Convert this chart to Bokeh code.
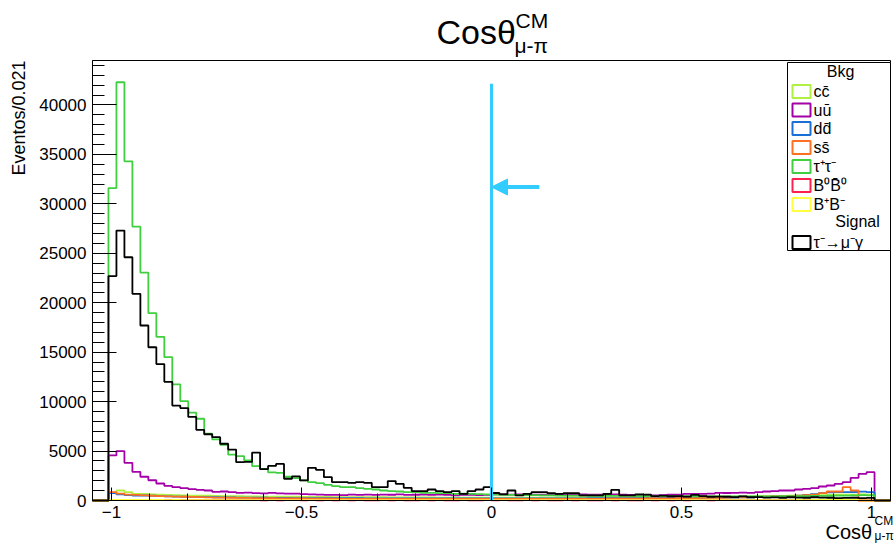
import numpy as np
from bokeh.plotting import figure
from bokeh.models import Range1d, FixedTicker, Label, BoxAnnotation, Arrow, NormalHead
from bokeh.embed import file_html
from bokeh.resources import INLINE

# ---------------- data ----------------
X_MIN, X_MAX = -1.05, 1.05
N_BINS = 100
BIN_W = 0.021
FIRST_BIN = 2
Y_MAX = 44500

signal = [22700, 27300, 24600, 20900, 17700, 15500, 13800, 12000, 9600, 9350,
          8450, 7150, 6700, 6400, 5740, 5150, 3880, 3900, 4850, 3170,
          3500, 3700, 2200, 2450, 2030, 3300, 3100, 2360, 1860, 1860,
          1790, 1860, 1790, 1350, 1350, 1960, 1690, 1280, 950, 950,
          1110, 950, 840, 950, 680, 950, 1110, 1350,
          760, 610, 1010, 520, 680, 840, 840, 740, 680, 740,
          740, 520, 520, 520, 680, 1080, 520, 520,
          620, 600, 450, 500, 430, 450, 400, 560, 450, 380,
          400, 380, 350, 420, 330, 350, 300, 320, 280, 330,
          300, 280, 330, 300, 280, 250, 270, 280, 240, 260]

tautau = [31600, 42300, 34300, 27700, 23050, 18950, 16550, 14500, 11750, 10050,
          8880, 8270, 6750, 6180, 5640, 4630, 4490, 4050, 3475, 3200,
          2850, 2800, 2400, 2260, 2030, 1860, 1760, 1590, 1450, 1350,
          1350, 1250, 1180, 1110, 1010, 950, 910, 850, 850, 780,
          780, 740, 740, 680, 700, 680, 650, 620,
          600, 580, 560, 560, 540, 540, 520, 520, 500, 500,
          490, 490, 480, 480, 470, 470, 460, 460, 450, 450,
          450, 440, 440, 440, 430, 430, 430, 420, 420, 420,
          420, 410, 410, 410, 420, 420, 430, 440, 440, 450,
          460, 470, 480, 490, 500, 520, 540, 520]

uu = [4560, 5000, 3810, 2900, 2400, 2050, 1720, 1470, 1350, 1250,
      1150, 1080, 1010, 880, 910, 850, 780, 800, 750, 720,
      780, 720, 700, 700, 650, 620, 600, 560, 560, 540,
      600, 560, 600, 560, 600, 580, 620, 560, 580, 600,
      560, 600, 580, 520, 560, 580, 540, 560,
      620, 640, 600, 620, 580, 600, 600, 620, 580, 600,
      560, 620, 600, 580, 600, 620, 580, 560,
      520, 540, 520, 540, 580, 580, 680, 660, 680, 700,
      780, 760, 780, 800, 780, 844, 911, 945, 1013, 1013,
      1114, 1181, 1249, 1418, 1519, 1687, 1856, 2296, 2700, 2869]

cc = [800, 1010, 840, 680, 680, 620, 600, 560, 540, 520,
      500, 480, 480, 460, 450, 440, 430, 420, 420, 400,
      400, 390, 380, 380, 370, 370, 360, 360, 350, 350,
      340, 340, 330, 330, 330, 320, 320, 320, 310, 310,
      310, 300, 300, 300, 300, 300, 290, 290,
      290, 290, 290, 290, 300, 300, 300, 300, 300, 310,
      310, 310, 310, 320, 320, 320, 330, 330, 330, 340,
      340, 350, 350, 360, 360, 370, 380, 380, 390, 400,
      400, 410, 420, 430, 440, 450, 460, 480, 490, 510,
      520, 540, 560, 580, 600, 600, 620, 600]

dd = [760, 610, 540, 506, 506, 480, 450, 420, 400, 380,
      360, 350, 340, 330, 320, 310, 300, 290, 280, 280,
      270, 260, 260, 250, 250, 250, 240, 240, 240, 230,
      230, 230, 220, 220, 220, 220, 210, 210, 210, 210,
      210, 200, 200, 200, 200, 200, 200, 200,
      200, 200, 200, 200, 200, 210, 210, 210, 210, 220,
      220, 220, 230, 230, 240, 240, 250, 250, 250, 250,
      250, 260, 260, 270, 270, 280, 280, 290, 290, 300,
      300, 310, 320, 340, 360, 380, 400, 450, 500, 560,
      650, 750, 820, 844, 850, 860, 900, 844]

ss = [850, 700, 600, 560, 520, 480, 450, 420, 400, 380,
      360, 340, 320, 300, 290, 280, 270, 260, 250, 240,
      230, 220, 210, 200, 200, 190, 190, 180, 180, 170,
      170, 170, 165, 165, 160, 160, 160, 155, 155, 155,
      150, 150, 150, 150, 150, 150, 150, 150,
      150, 150, 150, 150, 155, 155, 155, 160, 160, 160,
      165, 165, 170, 170, 175, 180, 185, 190, 195, 200,
      205, 210, 220, 230, 240, 250, 260, 270, 280, 300,
      310, 330, 350, 370, 390, 410, 430, 460, 500, 550,
      600, 743, 911, 911, 1350, 1013]

b0b0 = [40, 55, 50, 45, 40, 45, 35, 40, 30, 35,
        30, 40, 35, 30, 35, 30, 30, 35, 30, 25,
        30, 25, 30, 30, 25, 30, 25, 30, 25, 30,
        25, 30, 25, 25, 30, 25, 30, 25, 25, 30,
        25, 30, 25, 25, 30, 25, 25, 30,
        25, 30, 25, 25, 30, 25, 30, 25, 25, 30,
        25, 30, 25, 25, 30, 25, 30, 25, 25, 30,
        25, 30, 25, 30, 25, 30, 30, 25, 30, 30,
        30, 35, 30, 30, 35, 35, 30, 35, 40, 35,
        40, 45, 40, 50, 45, 40]

bpbm = [60, 70, 65, 55, 50, 55, 50, 45, 50, 45,
        40, 45, 40, 45, 40, 40, 45, 40, 40, 35,
        40, 35, 40, 40, 35, 40, 35, 40, 35, 40,
        35, 40, 35, 35, 40, 35, 40, 35, 35, 40,
        35, 40, 35, 35, 40, 35, 35, 40,
        35, 40, 35, 35, 40, 35, 40, 35, 35, 40,
        35, 40, 35, 35, 40, 35, 40, 35, 35, 40,
        35, 40, 35, 40, 35, 40, 40, 35, 40, 40,
        40, 45, 40, 40, 45, 45, 40, 45, 50, 45,
        50, 55, 50, 60, 55, 50]

bkg_series = [cc, uu, dd, ss, tautau, b0b0, bpbm]
bkg_labels = ["cc̄", "uū", "dd̄", "ss̄", "τ⁺τ⁻", "B⁰B̄⁰", "B⁺B⁻"]
bkg_colors = ["#b0f040", "#a400a8", "#1a6fd6", "#ff7020", "#3fcf3f", "#ff2050", "#ffff40"]
signal_label = "τ⁻→μ⁻γ"
signal_color = "#000000"

x_ticks = [-1, -0.5, 0, 0.5, 1]
x_tick_labels = ["−1", "−0.5", "0", "0.5", "1"]
y_ticks = [0, 5000, 10000, 15000, 20000, 25000, 30000, 35000, 40000]

cut_value = 0.0
cut_top = 42150
arrow_tail = 0.126
arrow_y = 31700

# ---------------- layout (pixels) ----------------
FONT = "Liberation Sans"
W, H = 894, 543
FL, FR, FT, FB = 92, 890, 60, 500
SX = (FR - FL) / (X_MAX - X_MIN)
SY = (FB - FT) / Y_MAX
X_LO, X_HI = X_MIN - FL / SX, X_MAX + (W - FR) / SX
Y_LO, Y_HI = -(H - FB) / SY, Y_MAX + FT / SY


def fx(px):
    return X_MIN + (px - FL) / SX


def fy(py):
    return (FB - py) / SY


def add_text(px, py, text, size, align="left", baseline="alphabetic", angle=0.0):
    p.add_layout(Label(x=fx(px), y=fy(py), text=text, text_font=FONT, text_font_size=size,
                       text_color="black", text_align=align, text_baseline=baseline, angle=angle))


p = figure(width=W, height=H, x_range=Range1d(X_LO, X_HI), y_range=Range1d(Y_LO, Y_HI),
           output_backend="svg", toolbar_location=None,
           min_border=0, min_border_left=0, min_border_right=0, min_border_top=0, min_border_bottom=0)
p.grid.visible = False
p.outline_line_color = None
p.background_fill_color = "white"
p.border_fill_color = "white"

p.xaxis.fixed_location = 0
p.yaxis.fixed_location = X_MIN
p.xaxis.bounds = (X_MIN, X_MAX)
p.yaxis.bounds = (0, Y_MAX)
p.xaxis.ticker = FixedTicker(ticks=x_ticks, minor_ticks=list(np.round(np.arange(-1.0, 1.0001, 0.1), 2)))
p.xaxis.major_label_overrides = dict(zip(x_ticks, x_tick_labels))
p.yaxis.ticker = FixedTicker(ticks=y_ticks, minor_ticks=list(range(0, 45000, 1000)))
p.xaxis.major_tick_in = 13
p.xaxis.major_tick_out = 0
p.xaxis.minor_tick_in = 7
p.xaxis.minor_tick_out = 0
p.yaxis.major_tick_in = 24
p.yaxis.major_tick_out = 0
p.yaxis.minor_tick_in = 12
p.yaxis.minor_tick_out = 0
for ax in (p.xaxis, p.yaxis):
    ax.axis_line_color = "black"
    ax.major_tick_line_color = "black"
    ax.minor_tick_line_color = "black"
    ax.major_label_text_font = FONT
    ax.major_label_text_font_size = "17px"
    ax.major_label_text_color = "black"
p.yaxis.major_label_standoff = 6
p.xaxis.major_label_standoff = 5

edges = X_MIN + BIN_W * np.arange(N_BINS + 1)


def full_hist(vals):
    h = np.zeros(N_BINS)
    h[FIRST_BIN:FIRST_BIN + len(vals)] = vals
    return np.append(h, 0.0)


for vals, col in zip(bkg_series, bkg_colors):
    p.step(edges, full_hist(vals), mode="after", line_color=col, line_width=1.8)
p.step(edges, full_hist(signal), mode="after", line_color=signal_color, line_width=1.8)

# cut line and arrow
cut_color = "#33ccff"
p.segment(x0=[cut_value], y0=[0], x1=[cut_value], y1=[cut_top], line_color=cut_color, line_width=3)
p.add_layout(Arrow(x_start=arrow_tail, y_start=arrow_y, x_end=cut_value, y_end=arrow_y,
                   line_color=cut_color, line_width=4,
                   end=NormalHead(size=16, fill_color=cut_color, line_color=cut_color)))

# frame box
p.add_layout(BoxAnnotation(left=X_MIN, right=X_MAX, bottom=0, top=Y_MAX,
                           fill_alpha=0, line_color="black", line_alpha=1, line_width=1))

# title
add_text(436, 31, "Cosθ", "34px")
add_text(515, 20, "CM", "21px")
add_text(514, 45, "μ-π", "21px")

# axis titles
add_text(18, 60, "Eventos/0.021", "18px", align="right", baseline="middle", angle=np.pi / 2)
add_text(825, 531, "Cosθ", "20px")
add_text(874, 520, "CM", "12px")
add_text(874, 535, "μ-π", "12px")

# legend
p.add_layout(BoxAnnotation(left=fx(787), right=fx(890), top=fy(62), bottom=fy(250),
                           fill_color="white", fill_alpha=1, line_color="black", line_alpha=1,
                           line_width=1))
add_text(840, 71, "Bkg", "16px", align="center", baseline="middle")
row_y = [91, 109.5, 128, 147, 166, 185, 204]
for lab, col, yc in zip(bkg_labels, bkg_colors, row_y):
    p.add_layout(BoxAnnotation(left=fx(792), right=fx(810), top=fy(yc - 6.5), bottom=fy(yc + 6.5),
                               fill_color="white", fill_alpha=1, line_color=col, line_alpha=1,
                               line_width=2))
    add_text(813, yc, lab, "16px", baseline="middle")
add_text(857, 221, "Signal", "16px", align="center", baseline="middle")
p.add_layout(BoxAnnotation(left=fx(792), right=fx(810), top=fy(235.5), bottom=fy(248.5),
                           fill_color="white", fill_alpha=1, line_color=signal_color, line_alpha=1,
                           line_width=2))
add_text(813, 242, signal_label, "16px", baseline="middle")

open("out.html", "w").write(file_html(p, INLINE))
